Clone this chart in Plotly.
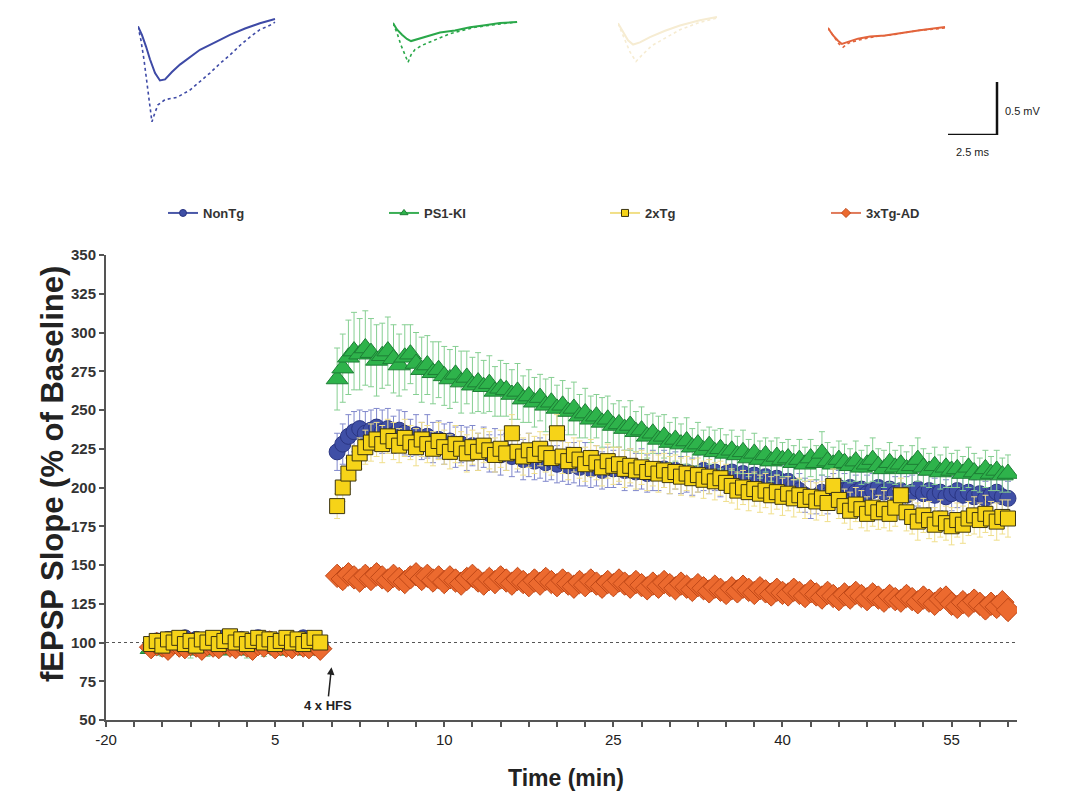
import numpy as np
import plotly.graph_objects as go

# ---------------- data ----------------
baseline_time = np.arange(-16, -0.99, 0.5)      # 31 sweeps before HFS (min)
post_time = np.arange(0.5, 60.01, 0.5)          # 120 sweeps after HFS (min)

series_names = ["NonTg", "PS1-KI", "2xTg", "3xTg-AD"]

base_nontg = [99, 101, 100, 102, 101, 99, 103, 100, 102, 101, 99, 102, 100, 103, 101, 100,
              102, 99, 101, 103, 100, 102, 101, 99, 102, 100, 101, 103, 100, 101, 99]
base_ps1 = [96, 98, 95, 97, 99, 96, 98, 95, 97, 100, 96, 98, 95, 97, 99, 96,
            98, 95, 97, 99, 96, 98, 97, 95, 98, 96, 99, 97, 95, 98, 99]
base_2xtg = [99, 101, 98, 102, 100, 103, 99, 101, 98, 102, 100, 103, 99, 101, 104, 100,
             102, 99, 101, 103, 100, 102, 99, 101, 103, 100, 102, 99, 101, 103, 100]
base_3xtg = [97, 99, 98, 96, 100, 98, 97, 99, 98, 96, 99, 98, 97, 100, 98, 97,
             99, 98, 96, 99, 98, 100, 97, 99, 98, 97, 99, 98, 97, 99, 96]

base_err_nontg = [4, 3, 4, 5, 3, 4, 4, 3, 5, 4, 3, 4, 4, 5, 3, 4, 4, 3, 4, 5, 3, 4, 4, 3, 5, 4, 3, 4, 4, 3, 4]
base_err_ps1 = [4, 5, 4, 3, 5, 4, 4, 5, 3, 4, 5, 4, 4, 3, 5, 4, 4, 5, 3, 4, 5, 4, 4, 3, 5, 4, 4, 5, 3, 4, 5]
base_err_2xtg = [3, 4, 3, 4, 3, 4, 4, 3, 4, 3, 4, 3, 4, 4, 3, 4, 3, 4, 3, 4, 4, 3, 4, 3, 4, 3, 4, 4, 3, 4, 3]
base_err_3xtg = [3, 3, 4, 3, 3, 4, 3, 3, 4, 3, 3, 4, 3, 3, 4, 3, 3, 4, 3, 3, 4, 3, 3, 4, 3, 3, 4, 3, 3, 4, 3]

post_nontg = [223, 228, 233, 236, 238, 235, 237, 239, 236, 238,
              234, 237, 235, 232, 234, 230, 233, 229, 231, 228,
              230, 226, 228, 225, 227, 223, 226, 222, 224, 221,
              223, 220, 222, 218, 221, 217, 219, 216, 218, 215,
              217, 214, 216, 213, 215, 212, 214, 211, 213, 212,
              214, 211, 213, 210, 212, 209, 211, 210, 212, 209,
              211, 208, 210, 207, 209, 211, 208, 210, 207, 209,
              210, 207, 209, 206, 208, 205, 207, 204, 206, 203,
              204, 201, 198, 195, 192, 194, 197, 195, 198, 200,
              198, 200, 197, 199, 196, 198, 200, 197, 199, 196,
              198, 195, 197, 199, 196, 198, 195, 197, 194, 196,
              198, 195, 197, 194, 196, 193, 195, 197, 194, 193]
post_ps1 = [270, 277, 284, 288, 286, 290, 287, 282, 285, 288,
            283, 279, 284, 286, 280, 276, 279, 274, 276, 272,
            270, 273, 268, 271, 266, 268, 265, 267, 262, 264,
            263, 260, 262, 257, 259, 255, 258, 253, 255, 251,
            253, 249, 251, 246, 248, 244, 246, 242, 244, 240,
            241, 238, 240, 236, 237, 233, 235, 231, 233, 229,
            231, 228, 230, 226, 228, 224, 227, 223, 225, 222,
            224, 221, 223, 219, 222, 218, 221, 217, 220, 218,
            219, 216, 218, 215, 219, 216, 222, 217, 215, 218,
            216, 214, 217, 213, 215, 218, 214, 212, 216, 213,
            215, 212, 214, 218, 213, 211, 214, 210, 213, 211,
            212, 209, 213, 210, 208, 212, 209, 211, 208, 209]
post_2xtg = [188, 200, 209, 216, 222, 226, 229, 231, 228, 233,
             230, 227, 232, 229, 226, 231, 228, 225, 230, 226,
             223, 228, 225, 222, 226, 223, 227, 224, 221, 225,
             222, 235, 223, 220, 224, 221, 225, 222, 219, 235,
             220, 217, 221, 218, 215, 219, 216, 213, 217, 214,
             215, 212, 214, 211, 213, 210, 212, 209, 211, 208,
             210, 207, 209, 206, 208, 205, 207, 204, 206, 203,
             201, 198, 200, 197, 199, 196, 198, 195, 197, 194,
             196, 193, 195, 192, 194, 191, 193, 190, 201, 192,
             188, 185, 189, 186, 183, 187, 184, 186, 183, 187,
             195, 184, 181, 178, 182, 179, 176, 180, 177, 175,
             179, 176, 180, 182, 179, 183, 180, 178, 181, 180]
post_3xtg = [143, 141, 144, 142, 140, 143, 141, 144, 142, 140,
             143, 141, 139, 142, 144, 141, 143, 140, 142, 139,
             142, 140, 138, 141, 143, 140, 138, 141, 139, 142,
             140, 138, 141, 139, 137, 140, 138, 141, 139, 137,
             140, 138, 136, 139, 137, 140, 138, 136, 139, 137,
             140, 138, 136, 139, 137, 135, 138, 136, 139, 137,
             135, 138, 136, 134, 137, 135, 133, 136, 134, 132,
             135, 133, 136, 134, 132, 135, 133, 131, 134, 132,
             131, 134, 132, 130, 133, 131, 129, 132, 130, 128,
             131, 129, 132, 130, 128, 131, 129, 127, 130, 128,
             127, 130, 128, 126, 129, 127, 125, 128, 129, 125,
             123, 126, 124, 127, 125, 122, 125, 123, 126, 121]

post_err_nontg = [12, 13, 14, 13, 12, 14, 13, 12, 14, 13,
                  12, 13, 14, 12, 13, 12, 14, 13, 12, 13,
                  12, 13, 12, 14, 13, 12, 13, 12, 14, 13,
                  12, 13, 12, 13, 14, 12, 13, 12, 13, 12,
                  13, 12, 13, 12, 14, 12, 13, 12, 13, 12,
                  12, 13, 12, 12, 13, 12, 13, 12, 12, 13,
                  12, 12, 13, 12, 12, 13, 12, 12, 13, 12,
                  11, 12, 12, 11, 12, 12, 11, 12, 12, 11,
                  11, 12, 11, 11, 12, 11, 11, 12, 11, 11,
                  11, 12, 11, 11, 12, 11, 11, 12, 11, 11,
                  11, 12, 11, 11, 12, 11, 11, 12, 11, 11,
                  11, 12, 11, 11, 12, 11, 11, 12, 11, 11]
post_err_ps1 = [20, 22, 24, 25, 23, 24, 22, 23, 21, 22,
                22, 20, 21, 19, 20, 21, 19, 20, 18, 19,
                19, 18, 20, 17, 18, 19, 17, 18, 16, 18,
                17, 16, 18, 15, 17, 16, 15, 17, 16, 15,
                16, 15, 17, 14, 16, 15, 14, 16, 15, 14,
                15, 14, 16, 13, 15, 14, 13, 15, 14, 13,
                14, 13, 15, 12, 14, 13, 12, 14, 13, 12,
                13, 12, 14, 12, 13, 12, 11, 13, 12, 11,
                12, 11, 13, 11, 12, 11, 14, 12, 11, 12,
                12, 11, 13, 11, 12, 14, 11, 12, 13, 11,
                12, 11, 13, 14, 12, 11, 12, 11, 13, 11,
                12, 11, 13, 12, 11, 12, 11, 13, 11, 12]
post_err_2xtg = [8, 9, 10, 11, 10, 11, 12, 11, 12, 11,
                 12, 11, 12, 11, 12, 11, 12, 11, 12, 11,
                 11, 12, 11, 12, 11, 12, 11, 12, 11, 12,
                 11, 12, 11, 12, 11, 12, 11, 12, 11, 12,
                 11, 12, 11, 12, 11, 12, 11, 12, 11, 12,
                 11, 12, 11, 12, 11, 12, 11, 12, 11, 12,
                 11, 12, 11, 12, 11, 12, 11, 12, 11, 12,
                 11, 12, 11, 12, 11, 12, 11, 12, 11, 12,
                 11, 12, 11, 12, 11, 12, 11, 12, 11, 12,
                 11, 12, 11, 12, 11, 12, 11, 12, 11, 12,
                 11, 12, 11, 12, 11, 12, 11, 12, 11, 12,
                 11, 12, 11, 12, 11, 12, 11, 12, 11, 12]
post_err_3xtg = [5, 6, 5, 6, 5, 6, 5, 6, 5, 6,
                 5, 6, 5, 6, 5, 6, 5, 6, 5, 6,
                 5, 6, 5, 6, 5, 6, 5, 6, 5, 6,
                 5, 6, 5, 6, 5, 6, 5, 6, 5, 6,
                 5, 6, 5, 6, 5, 6, 5, 6, 5, 6,
                 5, 6, 5, 6, 5, 6, 5, 6, 5, 6,
                 5, 6, 5, 6, 5, 6, 5, 6, 5, 6,
                 5, 6, 5, 6, 5, 6, 5, 6, 5, 6,
                 5, 6, 5, 6, 5, 6, 5, 6, 5, 6,
                 5, 6, 5, 6, 5, 6, 5, 6, 5, 6,
                 5, 6, 5, 6, 5, 6, 5, 6, 5, 6,
                 5, 6, 5, 6, 5, 6, 5, 6, 5, 6]

y_tick_vals = [50, 75, 100, 125, 150, 175, 200, 225, 250, 275, 300, 325, 350]
x_major_vals = [-20, -5, 10, 25, 40, 55]
x_major_text = ["-20", "5", "10", "25", "40", "55"]
x_minor_step = 2.5

# Representative fEPSP traces (ms, mV): baseline (solid) and post-HFS (dotted)
wave_nontg_t = [0, 0.20, 0.41, 0.61, 0.87, 1.12, 1.38, 1.73, 2.14, 2.65, 3.16, 3.93, 4.69, 5.46, 6.22, 6.99]
wave_nontg_base = [-0.07, -0.15, -0.26, -0.38, -0.51, -0.58, -0.57, -0.50, -0.43, -0.36, -0.29, -0.22, -0.15, -0.09, -0.04, 0]
wave_nontg_post_t = [0, 0.15, 0.31, 0.46, 0.61, 0.71, 0.87, 1.02, 1.38, 1.99, 2.65, 3.16, 3.67, 4.18, 4.69, 5.20, 5.71, 6.22, 6.73, 6.99]
wave_nontg_post = [-0.07, -0.20, -0.39, -0.62, -0.84, -0.97, -0.88, -0.81, -0.76, -0.74, -0.67, -0.59, -0.51, -0.42, -0.34, -0.25, -0.17, -0.10, -0.06, -0.03]

wave_ps1_t = [0, 0.20, 0.46, 0.71, 0.92, 1.28, 1.79, 2.40, 3.16, 3.93, 4.69, 5.46, 6.33]
wave_ps1_base = [-0.01, -0.07, -0.12, -0.16, -0.18, -0.16, -0.13, -0.10, -0.08, -0.05, -0.03, -0.01, 0]
wave_ps1_post_t = [0, 0.20, 0.41, 0.61, 0.77, 0.92, 1.12, 1.48, 1.89, 2.40, 2.91, 3.52, 4.18, 4.95, 5.71, 6.33]
wave_ps1_post = [-0.01, -0.10, -0.22, -0.31, -0.38, -0.31, -0.26, -0.22, -0.19, -0.15, -0.11, -0.08, -0.05, -0.03, -0.01, 0]

wave_2xtg_t = [0, 0.26, 0.51, 0.77, 1.12, 1.63, 2.40, 3.16, 4.18, 5.05]
wave_2xtg_base = [-0.06, -0.14, -0.22, -0.26, -0.24, -0.19, -0.13, -0.08, -0.03, 0]
wave_2xtg_post_t = [0, 0.31, 0.61, 0.92, 1.22, 1.73, 2.40, 3.16, 4.18, 5.05]
wave_2xtg_post = [-0.06, -0.20, -0.33, -0.42, -0.36, -0.27, -0.20, -0.12, -0.05, -0.01]

wave_3xtg_t = [0, 0.26, 0.51, 0.71, 1.02, 1.53, 2.14, 2.91, 3.67, 4.69, 5.97]
wave_3xtg_base = [-0.01, -0.08, -0.13, -0.16, -0.14, -0.11, -0.09, -0.08, -0.06, -0.03, 0]
wave_3xtg_post_t = [0, 0.31, 0.56, 0.77, 1.07, 1.63, 2.40, 3.42, 4.69, 5.97]
wave_3xtg_post = [-0.01, -0.10, -0.16, -0.19, -0.15, -0.12, -0.09, -0.07, -0.03, -0.01]

scale_ms = 2.5
scale_mv = 0.5

# ---------------- styling ----------------
W, H = 1075, 802
colors = {
    "NonTg": dict(fill="#3f4fa6", edge="#2a3582", err="#8088cc", leg="#4a58a8", symbol="circle", size=16),
    "PS1-KI": dict(fill="#2eb34b", edge="#1d7e35", err="#86cf92", leg="#3aae55", symbol="triangle-up", size=19),
    "2xTg": dict(fill="#f6d318", edge="#3b3410", err="#f0df8c", leg="#f1df86", symbol="square", size=15),
    "3xTg-AD": dict(fill="#ec6a2f", edge="#c04818", err="#ef9068", leg="#e07a5a", symbol="diamond", size=18),
}
wave_colors = {"NonTg": "#3e4aa6", "PS1-KI": "#2aa84a", "2xTg": "#f6ecd2", "3xTg-AD": "#e2643c"}

BOLD = "Liberation Sans, Arial, sans-serif"
NARROW = "Liberation Sans Narrow, Arial Narrow, Liberation Sans, Arial, sans-serif"

data = {
    "NonTg": (base_nontg, post_nontg, base_err_nontg, post_err_nontg),
    "PS1-KI": (base_ps1, post_ps1, base_err_ps1, post_err_ps1),
    "2xTg": (base_2xtg, post_2xtg, base_err_2xtg, post_err_2xtg),
    "3xTg-AD": (base_3xtg, post_3xtg, base_err_3xtg, post_err_3xtg),
}

fig = go.Figure()

times = list(baseline_time) + list(post_time)

# data traces, drawing order: NonTg, PS1-KI, 3xTg-AD, 2xTg (2xTg on top)
for name in ["NonTg", "PS1-KI", "3xTg-AD", "2xTg"]:
    b, p, be, pe = data[name]
    c = colors[name]
    fig.add_trace(go.Scatter(
        x=times, y=list(b) + list(p), mode="markers", showlegend=False,
        marker=dict(symbol=c["symbol"], size=c["size"], color=c["fill"],
                    line=dict(color=c["edge"], width=1)),
        error_y=dict(type="data", array=list(be) + list(pe), color=c["err"],
                     thickness=1, width=3),
        xaxis="x", yaxis="y",
    ))

# legend-only traces
for name in series_names:
    c = colors[name]
    fig.add_trace(go.Scatter(
        x=[None], y=[None], mode="lines+markers", name=name,
        line=dict(color=c["leg"], width=2),
        marker=dict(symbol=c["symbol"], size=7, color=c["fill"],
                    line=dict(color=c["edge"], width=1)),
        xaxis="x", yaxis="y",
    ))

# ---------------- inset traces ----------------
px_per_ms = 19.6
px_per_mv = 106.0
inset_range_x = [0, 8]
inset_range_y = [-1.0, 0.1]
inset_w = (inset_range_x[1] - inset_range_x[0]) * px_per_ms
inset_h = (inset_range_y[1] - inset_range_y[0]) * px_per_mv

# left pixel of trace start, pixel y of 0 mV
inset_pos = {"NonTg": (138, 19), "PS1-KI": (393, 22), "2xTg": (618, 17), "3xTg-AD": (828, 27)}
waves = {
    "NonTg": (wave_nontg_t, wave_nontg_base, wave_nontg_post_t, wave_nontg_post),
    "PS1-KI": (wave_ps1_t, wave_ps1_base, wave_ps1_post_t, wave_ps1_post),
    "2xTg": (wave_2xtg_t, wave_2xtg_base, wave_2xtg_post_t, wave_2xtg_post),
    "3xTg-AD": (wave_3xtg_t, wave_3xtg_base, wave_3xtg_post_t, wave_3xtg_post),
}

hidden = dict(visible=False, fixedrange=True, automargin=False)
layout_axes = {}
for i, name in enumerate(series_names):
    k = i + 2
    left, y0 = inset_pos[name]
    top = y0 - inset_range_y[1] * px_per_mv
    bottom = top + inset_h
    layout_axes[f"xaxis{k}"] = dict(domain=[left / W, (left + inset_w) / W], range=inset_range_x,
                                    anchor=f"y{k}", **hidden)
    layout_axes[f"yaxis{k}"] = dict(domain=[(H - bottom) / H, (H - top) / H], range=inset_range_y,
                                    anchor=f"x{k}", **hidden)
    t1, v1, t2, v2 = waves[name]
    fig.add_trace(go.Scatter(x=t2, y=v2, mode="lines", showlegend=False,
                             line=dict(color=wave_colors[name], width=1.6, dash="dot"),
                             xaxis=f"x{k}", yaxis=f"y{k}"))
    fig.add_trace(go.Scatter(x=t1, y=v1, mode="lines", showlegend=False,
                             line=dict(color=wave_colors[name], width=2),
                             xaxis=f"x{k}", yaxis=f"y{k}"))

# scale bar axis
sb_left, sb_bottom = 948, 135
sb_range_x = [0, 4]
sb_w = (sb_range_x[1] - sb_range_x[0]) * px_per_ms
layout_axes["xaxis6"] = dict(domain=[sb_left / W, (sb_left + sb_w) / W], range=sb_range_x,
                             anchor="y6", **hidden)
layout_axes["yaxis6"] = dict(domain=[(H - sb_bottom) / H, (H - sb_bottom + inset_h) / H],
                             range=[inset_range_y[0], inset_range_y[1]], anchor="x6", **hidden)
fig.add_trace(go.Scatter(x=[0, scale_ms, scale_ms], y=[-1, -1, -1 + scale_mv], mode="lines",
                         showlegend=False, line=dict(color="#111111", width=2.5),
                         xaxis="x6", yaxis="y6"))

# ---------------- main axes ----------------
x_range = [-20, 60.8]
plot_left, plot_right, plot_top, plot_bottom = 106, 1017, 255, 720

x_tick_vals = list(np.arange(x_range[0], x_range[1], x_minor_step))
x_tick_text = [x_major_text[x_major_vals.index(v)] if v in x_major_vals else "" for v in x_tick_vals]

fig.update_layout(
    template="none",
    width=W, height=H,
    margin=dict(l=0, r=0, t=0, b=0, pad=0, autoexpand=False),
    paper_bgcolor="white", plot_bgcolor="white",
    xaxis=dict(domain=[plot_left / W, plot_right / W], range=x_range, automargin=False,
               showgrid=False, zeroline=False, showline=True, linecolor="#555555", linewidth=2,
               ticks="outside", ticklen=5, tickwidth=1.5, tickcolor="#555555",
               tickmode="array", tickvals=x_tick_vals, ticktext=x_tick_text,
               tickfont=dict(family=NARROW, size=15, color="#222222"),
               anchor="y", fixedrange=True),
    yaxis=dict(domain=[(H - plot_bottom) / H, (H - plot_top) / H], range=[50, 350], automargin=False,
               showgrid=False, zeroline=False, showline=True, linecolor="#555555", linewidth=2,
               ticks="outside", ticklen=5, tickwidth=1.5, tickcolor="#555555",
               tickmode="array", tickvals=y_tick_vals,
               tickfont=dict(family=BOLD, size=15, color="#333333", weight="bold"),
               anchor="x", fixedrange=True),
    showlegend=True,
    legend=dict(orientation="h", xref="container", yref="container",
                x=163 / W, xanchor="left", y=(H - 213) / H, yanchor="middle",
                entrywidth=176, entrywidthmode="pixels", bgcolor="rgba(0,0,0,0)",
                font=dict(family=NARROW, size=13, color="#333333", weight="bold"),
                itemclick=False, itemdoubleclick=False, tracegroupgap=0),
    **layout_axes,
)

# dashed baseline line at 100 %
fig.add_shape(type="line", xref="x", yref="y", x0=x_range[0], x1=x_range[1], y0=100, y1=100,
              line=dict(color="#555555", width=1, dash="3px,3px"), layer="below")

annotations = [
    dict(text="fEPSP Slope (% of Baseline)", xref="paper", yref="paper", x=53 / W, y=(H - 474) / H,
         textangle=-90, showarrow=False, xanchor="center", yanchor="middle",
         font=dict(family=BOLD, size=31, color="#222222", weight="bold")),
    dict(text="Time (min)", xref="paper", yref="paper", x=566 / W, y=(H - 778) / H,
         showarrow=False, xanchor="center", yanchor="middle",
         font=dict(family=NARROW, size=23, color="#222222", weight="bold")),
    dict(text="4 x HFS", xref="x", yref="y", x=0, y=84, ax=-4, ay=38, showarrow=True,
         arrowhead=2, arrowsize=1, arrowwidth=1.5, arrowcolor="#222222",
         font=dict(family=NARROW, size=13, color="#222222", weight="bold")),
    dict(text="0.5 mV", xref="x6", yref="y6", x=scale_ms, y=-1 + scale_mv / 2, xshift=6, yshift=-3,
         showarrow=False, xanchor="left", yanchor="middle",
         font=dict(family=BOLD, size=11, color="#222222")),
    dict(text="2.5 ms", xref="x6", yref="y6", x=scale_ms / 2, y=-1, yshift=-9,
         showarrow=False, xanchor="center", yanchor="top",
         font=dict(family=BOLD, size=11, color="#222222")),
]
fig.update_layout(annotations=annotations)

fig.write_html("out.html", config={"displayModeBar": False},
               post_script="document.body.style.margin='0';document.body.style.overflow='hidden';")
